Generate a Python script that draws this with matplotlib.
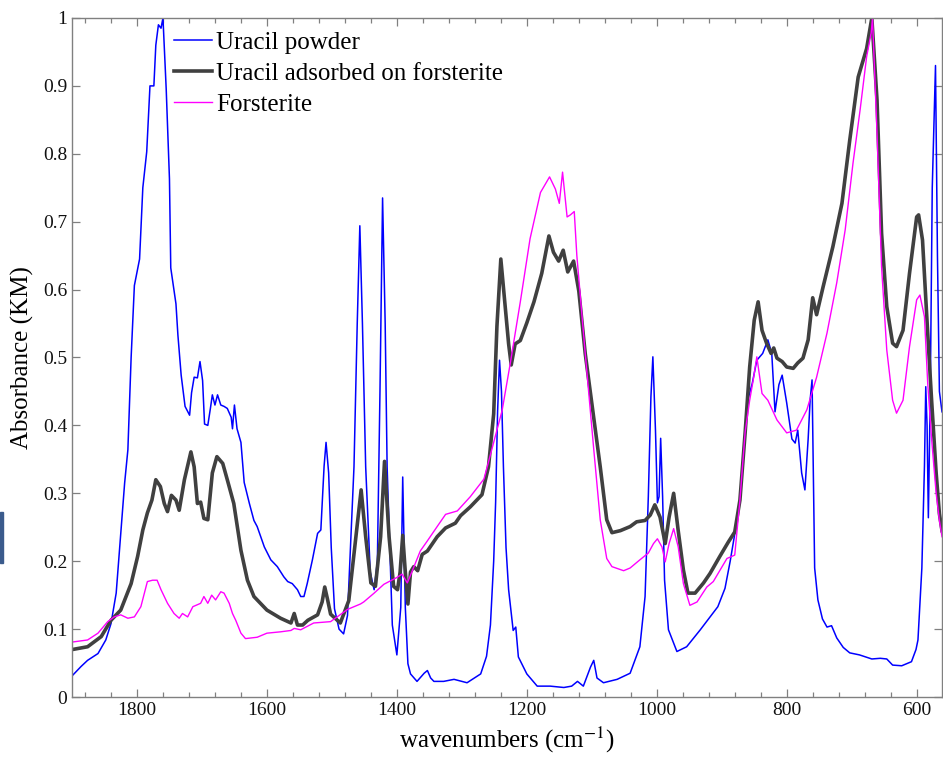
import numpy as np
import matplotlib
matplotlib.use("Agg")
import matplotlib.pyplot as plt
from matplotlib.patches import Rectangle
from matplotlib.ticker import MultipleLocator

# ----------------------------------------------------------------------
# DRIFTS spectra (Kubelka-Munk)
# ----------------------------------------------------------------------
wn_powder = [1899, 1886, 1876, 1860, 1848, 1840, 1832, 1825, 1819, 1814, 1809, 1804, 1796,
             1791, 1785, 1780, 1774, 1771, 1767, 1763, 1760, 1755, 1750, 1748, 1740, 1737,
             1732, 1726, 1719, 1716, 1712, 1707, 1703, 1699, 1696, 1691, 1687, 1684, 1680,
             1676, 1671, 1666, 1661, 1655, 1653, 1650, 1646, 1640, 1635, 1627, 1620, 1615,
             1604, 1594, 1584, 1574, 1568, 1561, 1553, 1548, 1543, 1538, 1530, 1522, 1517,
             1512, 1509, 1505, 1501, 1496, 1489, 1482, 1476, 1470, 1466, 1461, 1457, 1453,
             1448, 1441, 1435, 1430, 1426, 1422, 1418, 1415, 1407, 1400, 1394, 1391, 1387,
             1383, 1379, 1369, 1358, 1353, 1348, 1343, 1328, 1312, 1292, 1271, 1262, 1256,
             1251, 1248, 1245, 1242, 1239, 1236, 1232, 1228, 1221, 1217, 1213, 1200, 1184,
             1164, 1143, 1131, 1122, 1113, 1102, 1097, 1092, 1082, 1061, 1041, 1026, 1018,
             1013, 1009, 1006, 1002, 999, 996.5, 994, 991, 988, 982, 969, 954, 933, 918,
             906, 895, 887, 880, 872, 866, 860, 853, 846, 837, 829, 823, 818, 812, 807, 800,
             792, 787, 783, 777, 772, 767, 764, 761, 757, 752, 745, 738, 731, 723, 713, 703,
             688, 669, 656, 646, 637, 623, 608, 601, 598, 592, 588, 586, 584, 582, 579, 576,
             571, 568, 565, 561]
km_powder = [0.032, 0.045, 0.054, 0.064, 0.084, 0.108, 0.153, 0.241, 0.315, 0.364, 0.50, 0.606,
             0.645, 0.75, 0.803, 0.90, 0.90, 0.96, 0.99, 0.985, 1.0, 0.895, 0.763, 0.632, 0.579,
             0.533, 0.474, 0.428, 0.415, 0.448, 0.471, 0.47, 0.494, 0.466, 0.402, 0.40, 0.425,
             0.445, 0.43, 0.445, 0.43, 0.428, 0.425, 0.412, 0.395, 0.43, 0.395, 0.375, 0.316,
             0.285, 0.26, 0.251, 0.221, 0.202, 0.192, 0.177, 0.170, 0.167, 0.158, 0.148, 0.148,
             0.167, 0.202, 0.241, 0.246, 0.34, 0.375, 0.33, 0.22, 0.13, 0.10, 0.093, 0.12, 0.25,
             0.339, 0.55, 0.694, 0.55, 0.339, 0.184, 0.158, 0.20, 0.45, 0.735, 0.55, 0.339,
             0.106, 0.062, 0.132, 0.324, 0.132, 0.049, 0.034, 0.023, 0.035, 0.039, 0.028, 0.023,
             0.023, 0.026, 0.021, 0.034, 0.06, 0.106, 0.2, 0.287, 0.42, 0.496, 0.45, 0.339,
             0.22, 0.158, 0.098, 0.103, 0.059, 0.034, 0.016, 0.016, 0.014, 0.016, 0.023, 0.016,
             0.044, 0.054, 0.028, 0.021, 0.026, 0.035, 0.074, 0.148, 0.295, 0.442, 0.501,
             0.393, 0.286, 0.295, 0.381, 0.295, 0.172, 0.099, 0.067, 0.074, 0.099, 0.118,
             0.133, 0.16, 0.20, 0.24, 0.29, 0.37, 0.437, 0.462, 0.496, 0.506, 0.526, 0.506,
             0.42, 0.46, 0.474, 0.433, 0.38, 0.374, 0.393, 0.33, 0.305, 0.38, 0.437, 0.467,
             0.19, 0.143, 0.115, 0.103, 0.105, 0.087, 0.073, 0.065, 0.062, 0.056, 0.057, 0.056,
             0.047, 0.046, 0.052, 0.07, 0.084, 0.19, 0.34, 0.457, 0.40, 0.264, 0.45, 0.75,
             0.93, 0.65, 0.45, 0.42]

wn_ads = [1899, 1876, 1855, 1840, 1825, 1809, 1799, 1791, 1784, 1777, 1771, 1764, 1758, 1753,
          1747, 1740, 1735, 1727, 1717, 1712, 1707, 1702, 1697, 1691, 1684, 1677, 1668, 1661,
          1651, 1640, 1630, 1620, 1600, 1579, 1563, 1558, 1553, 1545, 1537, 1522, 1515, 1511,
          1507, 1502, 1487, 1474, 1463, 1455, 1448, 1440, 1433, 1425, 1419, 1412, 1405, 1399,
          1395, 1391, 1387, 1383, 1379, 1374, 1368, 1361, 1353, 1338, 1325, 1310, 1302, 1287,
          1269, 1259, 1251, 1246, 1240, 1233, 1228, 1224, 1218, 1210, 1200, 1189, 1177, 1166,
          1159, 1151, 1144, 1137, 1128, 1120, 1110, 1097, 1087, 1077, 1069, 1056, 1041, 1031,
          1018, 1010, 1003, 995, 987, 981, 974, 967, 959, 952, 941, 928, 918, 903, 890, 880,
          872, 864, 857, 850, 844, 838, 831, 824, 820, 815, 807, 800, 790, 783, 775, 767, 760,
          754, 744, 729, 715, 703, 690, 677, 669, 661, 654, 646, 637, 631, 621, 611, 600, 597,
          591, 583, 577, 570, 565, 561]
km_ads = [0.070, 0.074, 0.089, 0.113, 0.128, 0.167, 0.207, 0.246, 0.271, 0.29, 0.32, 0.31,
          0.285, 0.273, 0.297, 0.29, 0.275, 0.32, 0.361, 0.339, 0.285, 0.287, 0.263, 0.261,
          0.33, 0.354, 0.344, 0.32, 0.285, 0.216, 0.172, 0.148, 0.128, 0.116, 0.109, 0.123,
          0.106, 0.106, 0.113, 0.121, 0.14, 0.162, 0.145, 0.122, 0.109, 0.142, 0.236, 0.305,
          0.236, 0.168, 0.163, 0.236, 0.347, 0.236, 0.163, 0.158, 0.184, 0.238, 0.184, 0.137,
          0.184, 0.192, 0.186, 0.21, 0.215, 0.236, 0.249, 0.256, 0.267, 0.28, 0.298, 0.339,
          0.417, 0.546, 0.645, 0.572, 0.52, 0.489, 0.52, 0.525, 0.551, 0.582, 0.624, 0.679,
          0.655, 0.642, 0.658, 0.626, 0.642, 0.598, 0.505, 0.411, 0.339, 0.261, 0.242, 0.245,
          0.251, 0.258, 0.26, 0.268, 0.283, 0.265, 0.226, 0.265, 0.30, 0.245, 0.187, 0.153,
          0.153, 0.168, 0.182, 0.207, 0.228, 0.243, 0.29, 0.389, 0.486, 0.555, 0.582, 0.54,
          0.521, 0.506, 0.514, 0.499, 0.494, 0.486, 0.484, 0.492, 0.499, 0.526, 0.588, 0.563,
          0.604, 0.663, 0.727, 0.82, 0.913, 0.955, 1.0, 0.879, 0.683, 0.575, 0.521, 0.516,
          0.54, 0.624, 0.707, 0.71, 0.673, 0.536, 0.437, 0.33, 0.27, 0.245]

wn_fo = [1899, 1876, 1860, 1845, 1835, 1825, 1814, 1804, 1794, 1784, 1776, 1769, 1763, 1753,
         1743, 1735, 1730, 1722, 1714, 1702, 1697, 1691, 1685, 1679, 1671, 1666, 1658, 1653,
         1648, 1640, 1633, 1615, 1600, 1579, 1563, 1558, 1548, 1528, 1502, 1476, 1456, 1451,
         1435, 1420, 1400, 1392, 1384, 1377, 1364, 1353, 1338, 1325, 1307, 1287, 1266, 1251,
         1238, 1225, 1210, 1195, 1179, 1165, 1156, 1150, 1145, 1138, 1133, 1127, 1123, 1110,
         1097, 1087, 1077, 1069, 1051, 1041, 1026, 1013, 1005, 999, 992, 987, 981, 974, 967,
         959, 949, 938, 923, 913, 892, 880, 872, 864, 857, 851, 846, 838, 829, 815, 800, 785,
         769, 754, 738, 723, 710, 698, 687, 677, 670, 668, 661, 654, 646, 637, 631, 621, 611,
         600, 595, 588, 583, 577, 570, 565, 561]
km_fo = [0.081, 0.084, 0.094, 0.111, 0.118, 0.121, 0.116, 0.118, 0.133, 0.170, 0.172, 0.172,
         0.158, 0.138, 0.123, 0.116, 0.123, 0.118, 0.133, 0.138, 0.148, 0.138, 0.150, 0.143,
         0.155, 0.153, 0.138, 0.123, 0.113, 0.094, 0.086, 0.088, 0.094, 0.096, 0.098, 0.101,
         0.099, 0.109, 0.111, 0.129, 0.137, 0.14, 0.153, 0.166, 0.176, 0.181, 0.168, 0.184,
         0.215, 0.23, 0.251, 0.269, 0.274, 0.295, 0.321, 0.375, 0.422, 0.494, 0.582, 0.675,
         0.743, 0.766, 0.748, 0.727, 0.773, 0.707, 0.71, 0.715, 0.65, 0.505, 0.365, 0.261,
         0.204, 0.192, 0.186, 0.19, 0.202, 0.212, 0.226, 0.233, 0.221, 0.199, 0.226, 0.248,
         0.221, 0.167, 0.135, 0.14, 0.162, 0.17, 0.204, 0.209, 0.29, 0.39, 0.437, 0.47, 0.501,
         0.447, 0.437, 0.408, 0.389, 0.393, 0.423, 0.471, 0.536, 0.61, 0.688, 0.786, 0.865,
         0.943, 0.978, 1.0, 0.83, 0.633, 0.511, 0.437, 0.418, 0.437, 0.516, 0.585, 0.592,
         0.56, 0.462, 0.38, 0.30, 0.26, 0.236]

labels = ["Uracil powder", "Uracil adsorbed on forsterite", "Forsterite"]

# ----------------------------------------------------------------------
plt.rcParams['font.family'] = ['Liberation Serif', 'DejaVu Serif']
plt.rcParams['mathtext.fontset'] = 'stix'

W, H = 943, 757
fig = plt.figure(figsize=(W / 100, H / 100), dpi=100)
ax = fig.add_axes([72 / W, 60 / H, 870 / W, 679 / H])

ax.plot(wn_powder, km_powder, color='#0000ff', lw=1.1, label=labels[0])
ax.plot(wn_ads, km_ads, color='#404040', lw=2.6, label=labels[1])
ax.plot(wn_fo, km_fo, color='#ff00ff', lw=1.0, label=labels[2])

ax.set_xlim(1900, 561)
ax.set_ylim(0, 1)
ax.xaxis.set_major_locator(MultipleLocator(200))
ax.xaxis.set_minor_locator(MultipleLocator(40))
ax.yaxis.set_major_locator(MultipleLocator(0.1))
ax.yaxis.set_major_formatter(matplotlib.ticker.FuncFormatter(
    lambda v, p: '0' if abs(v) < 1e-9 else ('1' if abs(v - 1) < 1e-9 else f'{v:.1f}')))

ax.tick_params(which='both', direction='in', top=True, right=True,
               color='#808080', labelsize=14, labelcolor='#111111')
ax.tick_params(which='major', length=6, width=0.9)
ax.tick_params(which='minor', length=3.5, width=0.9)
for sp in ax.spines.values():
    sp.set_color('#808080')
    sp.set_linewidth(1.0)

ax.set_xlabel('wavenumbers (cm$^{-1}$)', fontsize=18, labelpad=4)
ax.set_ylabel('Absorbance (KM)', fontsize=18, labelpad=6)

ax.legend(loc='upper left', bbox_to_anchor=(174 / W, 1 - 31 / H),
          bbox_transform=fig.transFigure, frameon=False, fontsize=18,
          handlelength=1.5, handletextpad=0.2, labelspacing=0.35,
          borderpad=0, borderaxespad=0)

# small blue mark at the left edge of the original picture
fig.patches.append(Rectangle((0, (H - 563) / H), 3 / W, 51 / H,
                             transform=fig.transFigure, color='#3b5b8c'))

fig.savefig('out.png', dpi=100)
